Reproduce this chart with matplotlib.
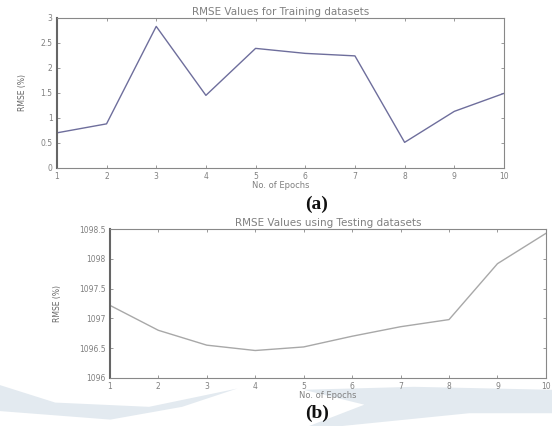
import matplotlib
matplotlib.use("Agg")
import matplotlib.pyplot as plt
from matplotlib.patches import Polygon

epochs = [1, 2, 3, 4, 5, 6, 7, 8, 9, 10]
train_rmse = [0.70, 0.88, 2.83, 1.45, 2.39, 2.29, 2.24, 0.51, 1.13, 1.49]
test_rmse = [1097.22, 1096.80, 1096.55, 1096.46, 1096.52, 1096.70, 1096.86, 1096.98, 1097.92, 1098.43]
train_yticks = [0, 0.5, 1, 1.5, 2, 2.5, 3]
test_yticks = [1096, 1096.5, 1097, 1097.5, 1098, 1098.5]

fig = plt.figure(figsize=(5.52, 4.26), dpi=100)
fig.patch.set_facecolor("white")

# faint watermark swoosh (decoration)
wm = "#e3eaf0"
fig.patches.append(Polygon([[0.0, 0.096], [0.10, 0.055], [0.27, 0.045], [0.43, 0.088],
                            [0.33, 0.045], [0.20, 0.015], [0.05, 0.03], [0.0, 0.035]], closed=True,
                           transform=fig.transFigure, facecolor=wm, edgecolor="none", zorder=-5))
fig.patches.append(Polygon([[0.55, 0.085], [0.75, 0.092], [1.0, 0.085], [1.0, 0.03],
                            [0.85, 0.03], [0.62, 0.0], [0.56, 0.0], [0.66, 0.05]], closed=True,
                           transform=fig.transFigure, facecolor=wm, edgecolor="none", zorder=-5))

axc = "#888888"
txc = "#808080"

def style(ax, yticks, ylim):
    ax.set_xlim(1, 10)
    ax.set_ylim(*ylim)
    ax.set_xticks(epochs)
    ax.set_yticks(yticks)
    ax.set_yticklabels([f"{v:g}" for v in yticks])
    ax.tick_params(direction="in", top=True, right=True, length=2.5, width=0.6,
                   labelsize=5.5, colors=axc, labelcolor=txc, pad=3)
    for s in ax.spines.values():
        s.set_color(axc)
        s.set_linewidth(0.8)
    ax.spines["left"].set_linewidth(1.5)
    ax.spines["left"].set_color("#666666")
    ax.patch.set_alpha(0)

ax1 = fig.add_axes([0.103, 0.606, 0.810, 0.352])
ax1.plot(epochs, train_rmse, color="#6e6e9c", lw=1.0)
style(ax1, train_yticks, (0, 3))
ax1.set_title("RMSE Values for Training datasets", fontsize=7.5, color=txc, pad=2)
ax1.set_xlabel("No. of Epochs", fontsize=6, color=txc, labelpad=0)
ax1.set_ylabel("RMSE (%)", fontsize=5.5, color="#666666", labelpad=10)

ax2 = fig.add_axes([0.199, 0.113, 0.790, 0.349])
ax2.plot(epochs, test_rmse, color="#a8a8a8", lw=1.0)
style(ax2, test_yticks, (1096, 1098.5))
ax2.set_title("RMSE Values using Testing datasets", fontsize=7.5, color=txc, pad=2)
ax2.set_xlabel("No. of Epochs", fontsize=6, color=txc, labelpad=0)
ax2.set_ylabel("RMSE (%)", fontsize=5.5, color="#666666", labelpad=12)

fig.text(0.574, 0.521, "(a)", fontsize=14, fontweight="bold", family="Liberation Serif",
         ha="center", va="center", color="#111111")
fig.text(0.574, 0.030, "(b)", fontsize=14, fontweight="bold", family="Liberation Serif",
         ha="center", va="center", color="#111111")

fig.savefig("out.png", dpi=100)
